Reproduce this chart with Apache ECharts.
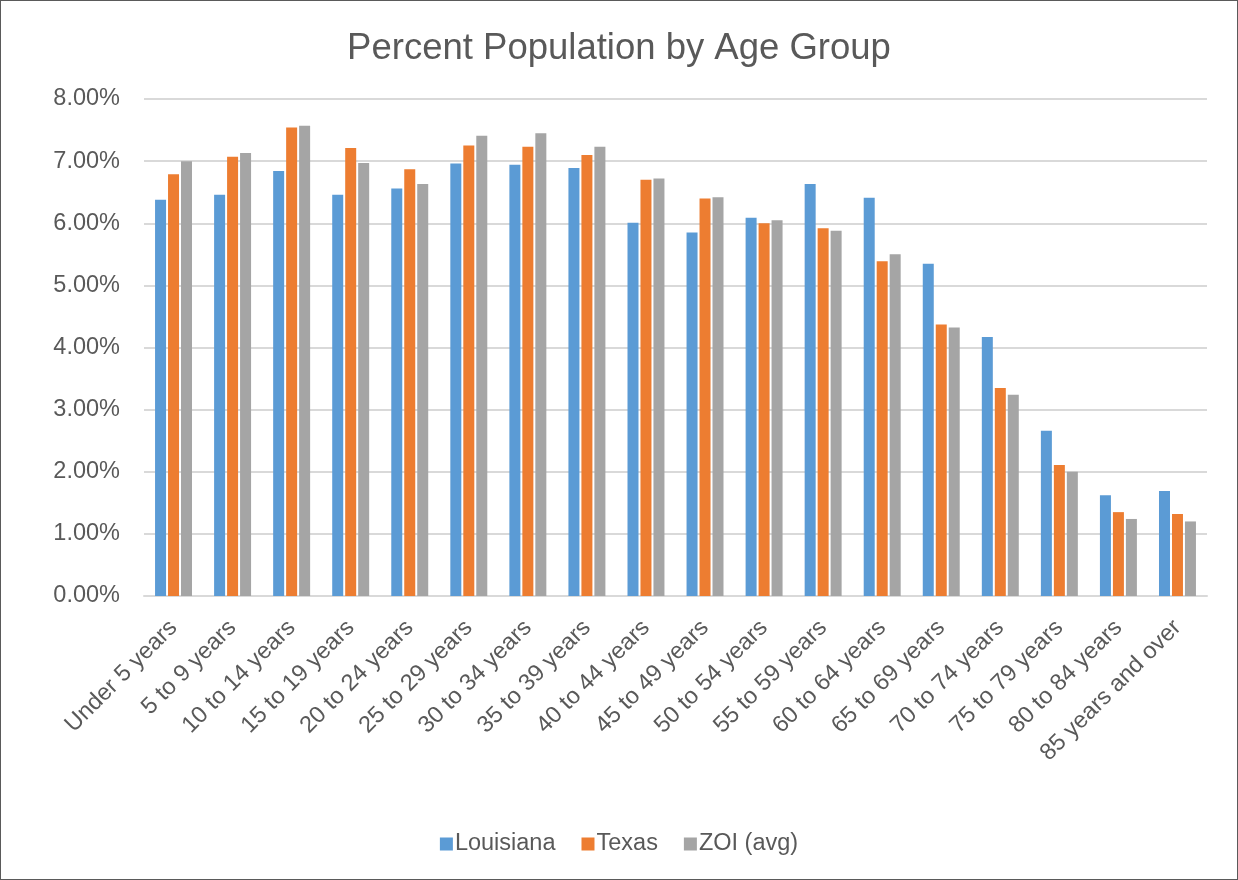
<!DOCTYPE html>
<html>
<head>
<meta charset="utf-8">
<script src="https://cdn.jsdelivr.net/npm/echarts@6/dist/echarts.min.js"></script>
<style>
  html, body { margin: 0; padding: 0; background: #fff; }
  #chart { width: 1238px; height: 880px; box-sizing: border-box; border: 1px solid #5a5a5a; }
</style>
</head>
<body>
<div id="chart"></div>
<script>
// Age groups on the x axis
const categories = [
  'Under 5 years', '5 to 9 years', '10 to 14 years', '15 to 19 years',
  '20 to 24 years', '25 to 29 years', '30 to 34 years', '35 to 39 years',
  '40 to 44 years', '45 to 49 years', '50 to 54 years', '55 to 59 years',
  '60 to 64 years', '65 to 69 years', '70 to 74 years', '75 to 79 years',
  '80 to 84 years', '85 years and over'
];

// Share of population in each age group, percent
const louisiana = [6.38, 6.46, 6.84, 6.46, 6.56, 6.96, 6.94, 6.89, 6.01, 5.85, 6.09, 6.63, 6.41, 5.35, 4.17, 2.66, 1.62, 1.69];
const texas     = [6.79, 7.07, 7.54, 7.21, 6.87, 7.25, 7.23, 7.10, 6.70, 6.40, 6.00, 5.92, 5.39, 4.37, 3.35, 2.11, 1.35, 1.32];
const zoiAvg    = [7.00, 7.13, 7.57, 6.97, 6.63, 7.41, 7.45, 7.23, 6.72, 6.42, 6.05, 5.88, 5.50, 4.32, 3.24, 2.00, 1.24, 1.20];

const seriesNames = ['Louisiana', 'Texas', 'ZOI (avg)'];
const seriesColors = ['#5B9BD5', '#ED7D31', '#A5A5A5'];

const textColor = '#595959';
const fontFamily = 'Liberation Sans, Arial, sans-serif';

const chart = echarts.init(document.getElementById('chart'), null, { renderer: 'canvas' });

const barSeries = [louisiana, texas, zoiAvg].map((values, i) => ({
  name: seriesNames[i],
  type: 'bar',
  data: values,
  barWidth: 11,
  barGap: '18%',
  itemStyle: { color: seriesColors[i] }
}));

chart.setOption({
  animation: false,
  backgroundColor: '#fff',
  textStyle: { fontFamily: fontFamily, color: textColor },
  title: {
    text: 'Percent Population by Age Group',
    left: 'center',
    top: 24,
    textStyle: { fontSize: 36.5, fontWeight: 'normal', color: textColor, fontFamily: fontFamily }
  },
  legend: {
    data: seriesNames,
    bottom: 18,
    left: 'center',
    itemWidth: 13,
    itemHeight: 13,
    itemGap: 26,
    icon: 'rect',
    textStyle: { fontSize: 23.5, color: textColor, fontFamily: fontFamily, padding: [0, 0, 0, -3] }
  },
  grid: { left: 143, right: 30, top: 98, bottom: 283, containLabel: false },
  xAxis: {
    type: 'category',
    data: categories,
    axisLine: { lineStyle: { color: '#d9d9d9', width: 2 } },
    axisTick: { show: false },
    axisLabel: {
      rotate: 45,
      interval: 0,
      fontSize: 23.5,
      color: textColor,
      fontFamily: fontFamily,
      margin: 28
    }
  },
  yAxis: {
    type: 'value',
    min: 0,
    max: 8,
    interval: 1,
    axisLine: { show: false },
    axisTick: { show: false },
    splitLine: { lineStyle: { color: '#d9d9d9', width: 2 } },
    axisLabel: {
      fontSize: 23.5,
      color: textColor,
      fontFamily: fontFamily,
      margin: 24,
      formatter: v => v.toFixed(2) + '%'
    }
  },
  series: barSeries
});
</script>
</body>
</html>
